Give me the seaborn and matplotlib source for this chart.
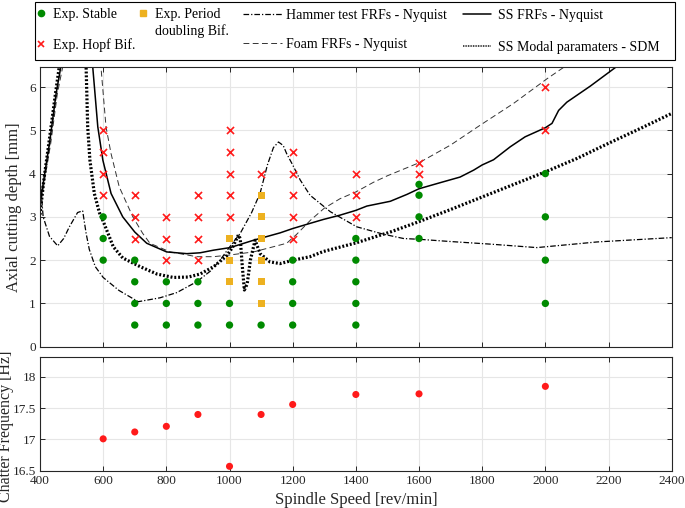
import numpy as np
import pandas as pd
import matplotlib
matplotlib.use("Agg")
import matplotlib.pyplot as plt
import seaborn as sns
from matplotlib.lines import Line2D
from matplotlib.patches import Rectangle

# ---------------- data ----------------
stable_rpm = [600, 600, 600, 700, 700, 700, 700, 800, 800, 800, 900, 900, 900,
              1000, 1000, 1100, 1200, 1200, 1200, 1200, 1400, 1400, 1400, 1400, 1400,
              1600, 1600, 1600, 1600, 2000, 2000, 2000, 2000]
stable_depth = [3.0, 2.5, 2.0, 2.0, 1.5, 1.0, 0.5, 1.5, 1.0, 0.5, 1.5, 1.0, 0.5,
                1.0, 0.5, 0.5, 2.0, 1.5, 1.0, 0.5, 2.5, 2.0, 1.5, 1.0, 0.5,
                3.75, 3.5, 3.0, 2.5, 4.0, 3.0, 2.0, 1.0]

hopf_rpm = [600, 600, 600, 600, 700, 700, 700, 800, 800, 800, 900, 900, 900, 900,
            1000, 1000, 1000, 1000, 1000, 1100, 1200, 1200, 1200, 1200, 1200,
            1400, 1400, 1400, 1600, 1600, 2000, 2000]
hopf_depth = [5.0, 4.5, 4.0, 3.5, 3.5, 3.0, 2.5, 3.0, 2.5, 2.0, 3.5, 3.0, 2.5, 2.0,
              5.0, 4.5, 4.0, 3.5, 3.0, 4.0, 4.5, 4.0, 3.5, 3.0, 2.5,
              4.0, 3.5, 3.0, 4.25, 4.0, 6.0, 5.0]

pd_rpm = [1000, 1000, 1000, 1100, 1100, 1100, 1100, 1100, 1100]
pd_depth = [2.5, 2.0, 1.5, 3.5, 3.0, 2.5, 2.0, 1.5, 1.0]

# SS FRFs - Nyquist (solid)
ss_left_rpm = [400, 415, 430, 451, 466, 472]
ss_left_depth = [3.3, 4.0, 4.7, 5.85, 6.47, 6.8]
ss_right_rpm = [562, 567, 583, 599, 625, 662, 700, 738, 801, 865, 907, 949, 1002, 1076,
                1160, 1200, 1255, 1297, 1350, 1400, 1435, 1509, 1562, 1600, 1667, 1730,
                1773, 1800, 1836, 1889, 1936, 2000, 2021, 2042, 2068, 2142, 2227, 2245]
ss_right_depth = [6.8, 6.46, 5.08, 4.31, 3.54, 3.0, 2.65, 2.39, 2.19, 2.15, 2.17, 2.23, 2.29, 2.46,
                  2.63, 2.73, 2.85, 2.94, 3.04, 3.15, 3.25, 3.36, 3.52, 3.65, 3.79, 3.92,
                  4.08, 4.2, 4.32, 4.62, 4.85, 5.06, 5.16, 5.46, 5.65, 6.02, 6.48, 6.6]

# Foam FRFs - Nyquist (dashed)
foam_left_rpm = [400, 418, 434, 455, 472, 478]
foam_left_depth = [3.2, 4.0, 4.7, 5.85, 6.47, 6.8]
foam_right_rpm = [588, 593, 609, 625, 651, 694, 725, 748, 812, 896, 949, 1002, 1076, 1139,
                  1181, 1213, 1256, 1300, 1350, 1401, 1456, 1500, 1600, 1700, 1794, 1899,
                  2005, 2063, 2080]
foam_right_depth = [6.8, 6.46, 5.08, 4.46, 3.69, 3.0, 2.62, 2.39, 2.19, 2.08, 2.08, 2.12, 2.19, 2.31,
                    2.39, 2.6, 2.92, 3.2, 3.42, 3.58, 3.8, 3.95, 4.25, 4.66, 5.12, 5.62,
                    6.19, 6.48, 6.6]

# SS Modal parameters - SDM (dotted)
sdm_left_rpm = [400, 413, 428, 449, 461, 466]
sdm_left_depth = [3.05, 3.9, 4.7, 5.85, 6.47, 6.8]
sdm_right_rpm = [543, 546, 551, 558, 572, 588, 600, 632, 662, 717, 770, 822, 870, 907, 950,
                 991, 1010, 1028, 1034, 1040, 1047, 1056, 1066, 1081, 1097, 1128, 1160, 1202,
                 1255, 1297, 1401, 1509, 1600, 1700, 1800, 1900, 2000, 2100, 2200, 2300, 2400]
sdm_right_depth = [6.8, 6.46, 5.08, 4.31, 3.54, 3.1, 2.9, 2.31, 2.05, 1.85, 1.68, 1.6, 1.61, 1.68, 1.85,
                   2.1, 2.3, 2.58, 2.5, 1.9, 1.31, 1.45, 2.0, 2.46, 2.15, 1.96, 1.92, 2.0,
                   2.08, 2.2, 2.4, 2.65, 2.89, 3.17, 3.46, 3.75, 4.04, 4.35, 4.7, 5.04, 5.39]

# Hammer test FRFs - Nyquist (dash-dot)
ham_rpm = [400, 410, 430, 456, 475, 493, 519, 535, 546, 556, 575, 600, 650, 711, 780, 833,
           896, 940, 970, 1000, 1034, 1070, 1097, 1120, 1139, 1155, 1170, 1181, 1200, 1224,
           1255, 1319, 1403, 1487, 1551, 1604, 1700, 1826, 1973, 2163, 2400]
ham_depth = [3.9, 3.0, 2.55, 2.33, 2.5, 2.77, 3.1, 3.14, 2.62, 2.25, 1.85, 1.6, 1.3, 1.04, 1.13, 1.25,
             1.5, 1.75, 2.0, 2.3, 2.62, 3.1, 3.55, 4.2, 4.6, 4.73, 4.65, 4.46, 4.2, 3.85,
             3.5, 3.12, 2.77, 2.6, 2.5, 2.48, 2.43, 2.37, 2.29, 2.42, 2.52]

freq_rpm = [600, 700, 800, 900, 1000, 1100, 1200, 1400, 1600, 2000]
chatter_freq = [17.01, 17.12, 17.21, 17.40, 16.57, 17.40, 17.56, 17.72, 17.73, 17.85]

xticks = [400, 600, 800, 1000, 1200, 1400, 1600, 1800, 2000, 2200, 2400]

# ---------------- style ----------------
sns.set_style("ticks")
plt.rcParams['font.family'] = ['Liberation Serif', 'DejaVu Serif']
TXT = '#262626'
W, H = 685.0, 508.0

def curve_df(left_x, left_y, right_x, right_y):
    parts = []
    if left_x:
        parts.append(pd.DataFrame({'rpm': left_x, 'depth': left_y, 'branch': 0}))
    parts.append(pd.DataFrame({'rpm': right_x, 'depth': right_y, 'branch': 1}))
    return pd.concat(parts, ignore_index=True)

fig = plt.figure(figsize=(6.85, 5.08), dpi=100)
ax1 = fig.add_axes([40 / W, 1 - 346.7 / H, 631.7 / W, 280 / H])
ax2 = fig.add_axes([40 / W, 1 - 470.7 / H, 631.7 / W, 113.7 / H])

HAM_LS = (0, (4.5, 1.6, 1.0, 1.6))
FOAM_LS = (0, (6, 3.5))
SDM_LS = (0, (0.6, 0.6))

# curves
ham_df = pd.DataFrame({'rpm': ham_rpm, 'depth': ham_depth, 'branch': 0})
sns.lineplot(data=ham_df, x='rpm', y='depth', units='branch', estimator=None, sort=False,
             color='black', linestyle=HAM_LS, linewidth=0.9, ax=ax1, legend=False)
sns.lineplot(data=curve_df(foam_left_rpm, foam_left_depth, foam_right_rpm, foam_right_depth),
             x='rpm', y='depth', units='branch', estimator=None, sort=False,
             color='#333333', linestyle=FOAM_LS, linewidth=0.7, ax=ax1, legend=False)
sns.lineplot(data=curve_df(ss_left_rpm, ss_left_depth, ss_right_rpm, ss_right_depth),
             x='rpm', y='depth', units='branch', estimator=None, sort=False,
             color='black', linestyle='-', linewidth=1.1, ax=ax1, legend=False)
sns.lineplot(data=curve_df(sdm_left_rpm, sdm_left_depth, sdm_right_rpm, sdm_right_depth),
             x='rpm', y='depth', units='branch', estimator=None, sort=False,
             color='black', linestyle=SDM_LS, linewidth=2.3, ax=ax1, legend=False)

# experimental points
GREEN = '#008a00'
RED = '#ff1a1a'
ORANGE = '#edb120'
sns.scatterplot(x=stable_rpm, y=stable_depth, marker='o', color=GREEN, s=28,
                edgecolor='none', ax=ax1, zorder=4, legend=False)
sns.scatterplot(x=hopf_rpm, y=hopf_depth, marker='x', color=RED, s=26,
                linewidth=1.2, ax=ax1, zorder=4, legend=False)
sns.scatterplot(x=pd_rpm, y=pd_depth, marker='s', color=ORANGE, s=26,
                edgecolor='none', ax=ax1, zorder=4, legend=False)

sns.scatterplot(x=freq_rpm, y=chatter_freq, marker='o', color=RED, s=26,
                edgecolor='none', ax=ax2, zorder=4, legend=False)

# axes formatting
for ax in (ax1, ax2):
    ax.set_xlim(400, 2400)
    ax.set_xticks(xticks)
    ax.grid(True, color='#e6e6e6', linewidth=0.8)
    ax.set_axisbelow(True)
    ax.tick_params(direction='in', top=True, right=True, length=3.5, width=0.7,
                   colors=TXT, labelsize=9.5, pad=3)
    for sp in ax.spines.values():
        sp.set_color(TXT)
        sp.set_linewidth(0.8)

ax1.set_ylim(0, 6.47)
ax1.set_yticks([0, 1, 2, 3, 4, 5, 6])
ax1.tick_params(labelbottom=False)
ax1.set_xlabel('')
ax1.set_ylabel('Axial cutting depth [mm]', fontsize=12, color=TXT)
ax1.yaxis.set_label_coords((22 - 40) / 631.7, 0.5)

ax2.set_ylim(16.5, 18.32)
ax2.set_yticks([16.5, 17, 17.5, 18])
ax2.set_yticklabels(['16.5', '17', '17.5', '18'])
ax2.set_xlabel('Spindle Speed [rev/min]', fontsize=12, color=TXT, labelpad=4)
ax2.set_ylabel('Chatter Frequency [Hz]', fontsize=11.5, color=TXT)
ax2.yaxis.set_label_coords((14.5 - 40) / 631.7, 0.39)

# legend (four columns placed individually inside one frame)
h_stable = Line2D([], [], linestyle='none', marker='o', color=GREEN, markersize=4.5)
h_hopf = Line2D([], [], linestyle='none', marker='x', color=RED, markersize=4.5, markeredgewidth=1.2)
h_pd = Line2D([], [], linestyle='none', marker='s', color=ORANGE, markersize=4.5)
h_blank = Line2D([], [], linestyle='none')
h_ham = Line2D([], [], color='black', linestyle=HAM_LS, linewidth=0.9)
h_foam = Line2D([], [], color='#333333', linestyle=FOAM_LS, linewidth=0.7)
h_ss = Line2D([], [], color='black', linestyle='-', linewidth=1.1)
h_sdm = Line2D([], [], color='black', linestyle=(0, (0.5, 0.5)), linewidth=1.2)

LFS = 10
common = dict(loc='upper left', frameon=False, borderpad=0, borderaxespad=0,
              fontsize=LFS)
for sty in [dict(handles=[h_stable, h_hopf], labels=['Exp. Stable', 'Exp. Hopf Bif.'],
                 x=35, y=8, hl=0.8, tp=0.5, ls=1.25),
            dict(handles=[h_pd, h_blank], labels=['Exp. Period', 'doubling Bif.'],
                 x=137, y=8, hl=0.8, tp=0.5, ls=0.25),
            dict(handles=[h_ham, h_foam], labels=['Hammer test FRFs - Nyquist', 'Foam FRFs - Nyquist'],
                 x=243, y=9, hl=2.8, tp=0.3, ls=1.15),
            dict(handles=[h_ss, h_sdm], labels=['SS FRFs - Nyquist', 'SS Modal paramaters - SDM'],
                 x=463, y=9, hl=2.0, tp=0.5, ls=1.35)]:
    lg = fig.legend(sty['handles'], sty['labels'],
                    bbox_to_anchor=(sty['x'] / W, 1 - sty['y'] / H),
                    handlelength=sty['hl'], handletextpad=sty['tp'],
                    labelspacing=sty['ls'], **common)
    for t in lg.get_texts():
        t.set_color('black')

fig.add_artist(Rectangle((35 / W, 1 - 60 / H), 640 / W, 58 / H, transform=fig.transFigure,
                         fill=False, edgecolor='black', linewidth=0.8))

fig.savefig('out.png', dpi=100)
